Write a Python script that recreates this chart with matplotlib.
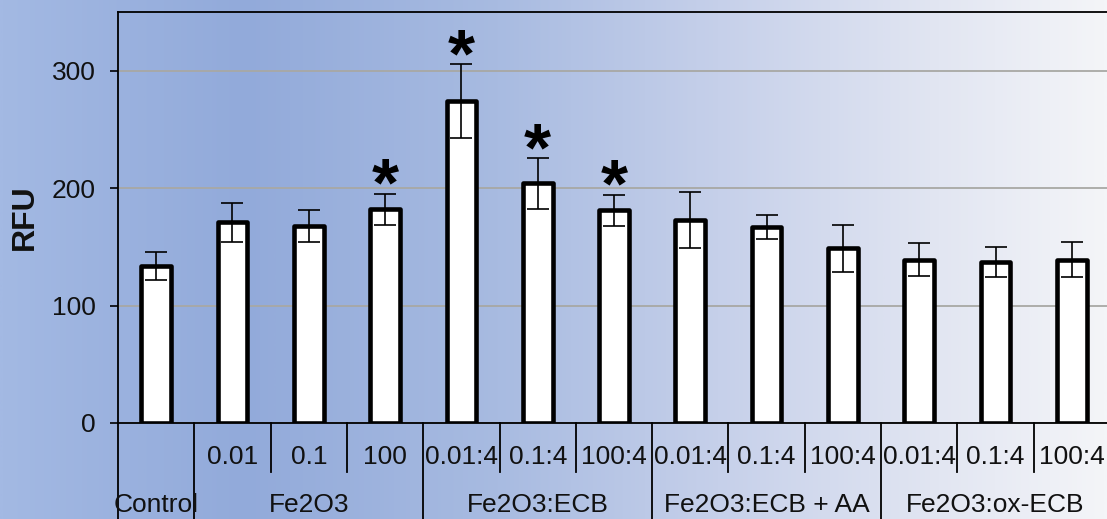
import numpy as np
import matplotlib
matplotlib.use("Agg")
import matplotlib.pyplot as plt
from matplotlib.colors import LinearSegmentedColormap
import matplotlib.transforms as mtransforms

# ---- data ----
level1_labels = ["", "0.01", "0.1", "100", "0.01:4", "0.1:4", "100:4",
                 "0.01:4", "0.1:4", "100:4", "0.01:4", "0.1:4", "100:4"]
groups = ["Control", "Fe2O3", "Fe2O3:ECB", "Fe2O3:ECB + AA", "Fe2O3:ox-ECB"]
group_sizes = [1, 3, 3, 3, 3]
values = [134, 171, 168, 182, 274, 204, 181, 173, 167, 149, 139, 137, 139]
errors = [12, 16.5, 13.5, 13, 31.5, 21.5, 13.5, 24, 10, 20, 14, 12.5, 15]
significant = [False, False, False, True, True, True, True,
               False, False, False, False, False, False]
y_ticks = [0, 100, 200, 300]

plt.rcParams['font.family'] = ['Liberation Sans', 'DejaVu Sans']

W, H = 1107, 519
fig = plt.figure(figsize=(W / 100, H / 100), dpi=100)

# background gradient
bg = fig.add_axes([0, 0, 1, 1], zorder=-10)
cmap = LinearSegmentedColormap.from_list(
    "bg", [(0.0, "#a3b9e3"), (0.22, "#92aada"), (0.45, "#a8bbe1"),
           (0.65, "#c6d0ea"), (0.85, "#e2e6f2"), (1.0, "#f4f5f8")])
grad = np.linspace(0, 1, 512)[None, :]
bg.imshow(grad, aspect="auto", cmap=cmap, extent=[0, 1, 0, 1])
bg.set_axis_off()

x0, x1 = 118 / W, 1110 / W
y0, y1 = (H - 423) / H, (H - 12) / H
ax = fig.add_axes([x0, y0, x1 - x0, y1 - y0])
ax.patch.set_alpha(0)

n = len(values)
x = np.arange(n)
bars = ax.bar(x, values, width=0.39, color="white", edgecolor="black",
              linewidth=3.3, zorder=3)
for b in bars:
    b.set_joinstyle("round")
ax.errorbar(x, values, yerr=errors, fmt="none", ecolor="black",
            elinewidth=1.2, capsize=8, capthick=1.2, zorder=4)

for xi, v, e, s in zip(x, values, errors, significant):
    if s:
        ax.annotate("*", (xi, v + e), xytext=(0, -8.5),
                    textcoords="offset points", ha="center", va="baseline",
                    fontsize=50, fontweight="bold", color="black", zorder=5)

ax.set_xlim(-0.5, n - 0.5)
ax.set_ylim(0, 350)
ax.set_yticks(y_ticks)
ax.set_yticklabels([str(t) for t in y_ticks], fontsize=19, color="#111111")
ax.tick_params(axis="y", direction="out", length=6, width=1.2, pad=10)
ax.set_xticks([])
ax.yaxis.grid(True, color="#a8a8a4", linewidth=1.3, zorder=0)
ax.set_axisbelow(True)
for side in ["left", "top", "bottom"]:
    ax.spines[side].set_color("black")
    ax.spines[side].set_linewidth(1.3)
ax.spines["right"].set_visible(False)

trans = mtransforms.blended_transform_factory(ax.transData, ax.transAxes)
h_ax = (423 - 12)
lvl1_bottom = -(472 - 423) / h_ax
fig_bottom = -(523 - 423) / h_ax
lvl1_y = -(457 - 423) / h_ax
lvl2_y = -(505 - 423) / h_ax

# group boundaries
bounds = [-0.5]
for gs in group_sizes:
    bounds.append(bounds[-1] + gs)
for i in range(n + 1):
    xb = i - 0.5
    yb = fig_bottom if xb in bounds else lvl1_bottom
    ax.plot([xb, xb], [0, yb], transform=trans, color="black",
            linewidth=1.3, clip_on=False)

for xi, lab in zip(x, level1_labels):
    if lab:
        ax.text(xi, lvl1_y, lab, transform=trans, ha="center", va="center",
                fontsize=19, color="#111111")
for g, (a, b) in zip(groups, zip(bounds[:-1], bounds[1:])):
    ax.text((a + b) / 2, lvl2_y, g, transform=trans, ha="center",
            va="center", fontsize=19, color="#111111")

fig.text(25 / W, (H - 217) / H, "RFU", rotation=90, ha="center",
         va="center", fontsize=23, fontweight="bold", color="#111111")

fig.savefig("out.png", dpi=100)
